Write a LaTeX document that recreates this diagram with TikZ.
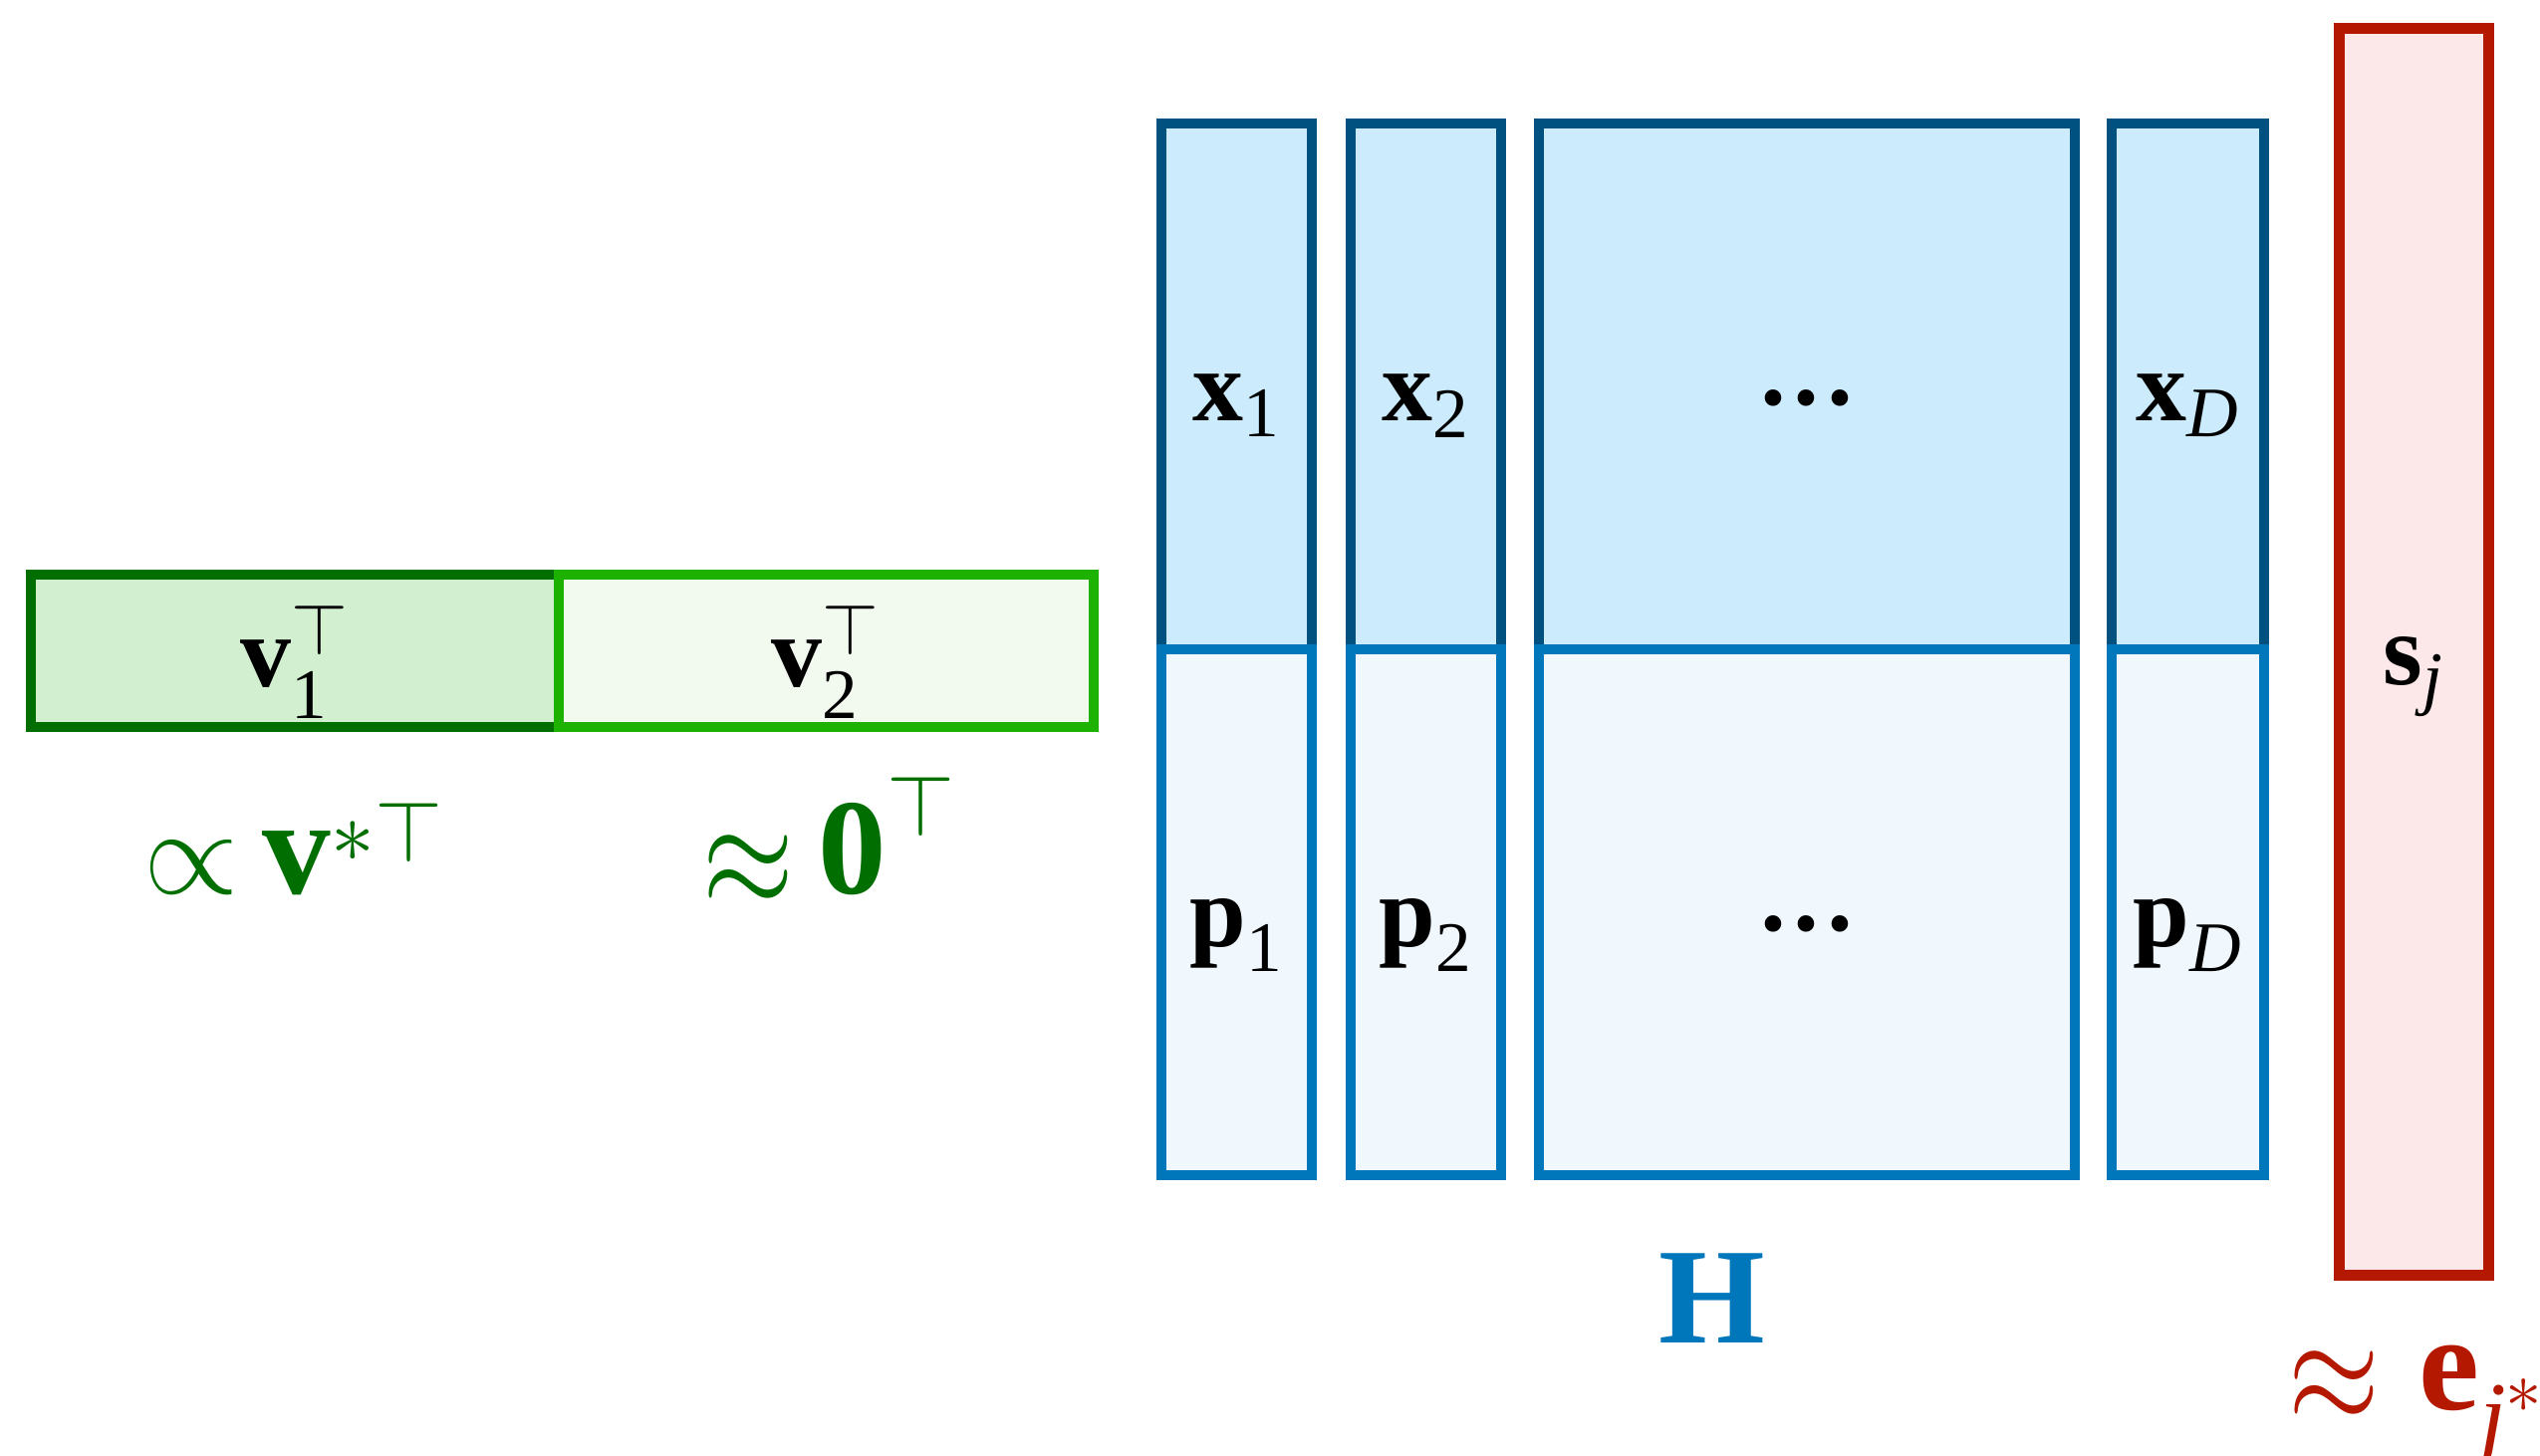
\documentclass[tikz,border=0pt]{standalone}
\usepackage{amsmath,amssymb}
\usepackage{fontspec}
\setmainfont{Liberation Serif}
\usepackage{tikz}
\usetikzlibrary{positioning,calc}
\definecolor{vdark}{RGB}{0,110,0}
\definecolor{vfill}{RGB}{210,239,208}
\definecolor{vlite}{RGB}{30,178,0}
\definecolor{vpale}{RGB}{242,250,240}
\definecolor{xline}{RGB}{0,80,128}
\definecolor{xfill}{RGB}{204,236,254}
\definecolor{pline}{RGB}{0,119,187}
\definecolor{pfill}{RGB}{240,248,254}
\definecolor{sline}{RGB}{180,24,0}
\definecolor{sfill}{RGB}{252,232,232}
\newcommand{\infont}{\fontsize{29}{34}\selectfont}
\newcommand{\labfont}{\fontsize{39}{46}\selectfont}
\newcommand{\bv}[1]{\text{\textbf{#1}}}
\newcommand{\tx}[1]{\text{#1}}
\newcommand{\ti}[1]{\text{\textit{#1}}}
\newcommand{\coldots}{\textbf{···}}
\newcommand{\bigprop}{\mathrel{\scalebox{1.4}{$\propto$}}}
\newcommand{\bigapprox}{\mathrel{\raisebox{-0.13cm}{\scalebox{1.35}[1.7]{$\approx$}}}}

\begin{document}
\begin{tikzpicture}[x=1cm,y=-1cm,
  cell/.style={draw, inner sep=0pt, line width=2.9pt},
  xcell/.style={cell, draw=xline, fill=xfill, minimum width=1.51cm, minimum height=5.28cm},
  pcell/.style={cell, draw=pline, fill=pfill, minimum width=1.51cm, minimum height=5.28cm},
  vone/.style={cell, draw=vdark, fill=vfill, minimum width=5.30cm, minimum height=1.53cm},
  vtwo/.style={cell, draw=vlite, fill=vpale, minimum width=5.37cm, minimum height=1.53cm},
  sbox/.style={cell, draw=sline, fill=sfill, line width=3.1pt, minimum width=1.50cm, minimum height=12.52cm},
  inlab/.style={anchor=base, inner sep=0pt, font=\infont},
  lab/.style={anchor=base, inner sep=0pt, font=\labfont},
]
\useasboundingbox (0,0) rectangle (25.5,14.61);
% row vector
\node[vone] (V1) at (2.960,6.535) {};
\node[vtwo] (V2) at (8.295,6.535) {};
\node[inlab] (tV1) at ($(V1)+(0,0.36)$) {$\bv{v}_{\tx{1}}^{\top}$};
\node[inlab] (tV2) at ($(V2)+(0,0.36)$) {$\bv{v}_{\tx{2}}^{\top}$};
\node[lab, text=vdark] (LV1) at (2.95,8.97) {$\bigprop \bv{v}^{*\top}$};
\node[lab, text=vdark] (LV2) at (8.33,8.97) {$\bigapprox \bv{0}^{\top}$};
% columns of H
\node[xcell] (X1) at (12.415,3.88) {};
\node[xcell] (X2) at (14.315,3.88) {};
\node[xcell, minimum width=5.38cm] (X3) at (18.140,3.88) {};
\node[xcell, minimum width=1.53cm] (XD) at (21.965,3.88) {};
\node[pcell] (P1) at (12.415,9.16) {};
\node[pcell] (P2) at (14.315,9.16) {};
\node[pcell, minimum width=5.38cm] (P3) at (18.140,9.16) {};
\node[pcell, minimum width=1.53cm] (PD) at (21.965,9.16) {};
\node[inlab] (tX1) at ($(X1)+(0,0.34)$) {$\bv{x}_{\tx{1}}$};
\node[inlab] (tX2) at ($(X2)+(0,0.34)$) {$\bv{x}_{\tx{2}}$};
\node[inlab] (tX3) at ($(X3)+(0,0.45)$) {\coldots};
\node[inlab] (tXD) at ($(XD)+(0,0.34)$) {$\bv{x}_{\ti{D}}$};
\node[inlab] (tP1) at ($(P1)+(0,0.34)$) {$\bv{p}_{\tx{1}}$};
\node[inlab] (tP2) at ($(P2)+(0,0.34)$) {$\bv{p}_{\tx{2}}$};
\node[inlab] (tP3) at ($(P3)+(0,0.45)$) {\coldots};
\node[inlab] (tPD) at ($(PD)+(0,0.34)$) {$\bv{p}_{\ti{D}}$};
\node[lab, text=pline] (LH) at (17.19,13.48) {$\bv{H}$};
% scores
\node[sbox] (S) at (24.235,6.545) {};
\node[inlab] (tS) at ($(S)+(0,0.33)$) {$\bv{s}_{\ti{j}}$};
\node[lab, text=sline, anchor=base west] (LS) at (22.97,14.15) {$\bigapprox\, \bv{e}_{\ti{j}^*}$};
\end{tikzpicture}
\end{document}
